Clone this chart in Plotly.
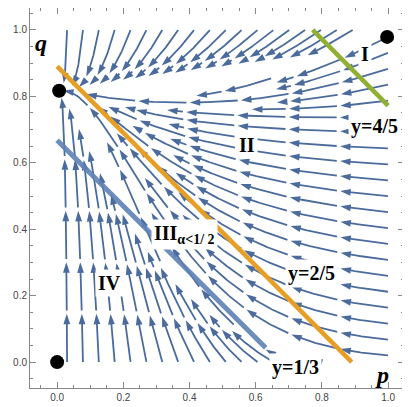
import math
from collections import deque
import numpy as np
import plotly.graph_objects as go

# ---------------- data ----------------
tick_vals = [0.0, 0.2, 0.4, 0.6, 0.8, 1.0]
tick_text = ["0.0", "0.2", "0.4", "0.6", "0.8", "1.0"]

eq_p = [0.0, 0.006, 0.997]
eq_q = [0.0, 0.817, 0.979]

orange_p = [0.0, 0.89]
orange_q = [0.89, 0.0]
blue_p = [0.0, 0.63]
blue_q = [0.668, 0.043]
green_p = [0.772, 1.0]
green_q = [1.0, 0.772]

label_text = ["I", "II", "III<sub>α&lt;1/ 2</sub>", "IV", "y=4/5", "y=2/5", "y=1/3"]
label_p = [0.93, 0.574, 0.385, 0.157, 0.958, 0.767, 0.719]
label_q = [0.928, 0.654, 0.385, 0.238, 0.708, 0.268, -0.015]

axis_label_text = ["q", "p"]
axis_label_p = [-0.048, 0.982]
axis_label_q = [0.961, -0.04]

# vector field (p, q) -> (dp/dt, dq/dt)
q_star0 = 0.82
q_star_slope = 0.1


def field(p, q):
    qs = q_star0 - q_star_slope * p
    r_below = 0.7 * (1 - p) / (p + 0.1) * (1.2 - 0.8 * q) + 0.1 + 0.6 * q
    r_above = 2.0 + 0.4 * (1 - p) / (p + 0.1)
    w = 0.5 * (1 + math.tanh((q - qs) / 0.03))
    u = -p
    v = (qs - q) * (w * r_above + (1 - w) * r_below)
    return u, v


X_RANGE = [-0.082, 1.048]
Y_RANGE = [-0.078, 1.066]
PLOT_W = 374
PLOT_H = 380
PX_X = PLOT_W / (X_RANGE[1] - X_RANGE[0])
PX_Y = PLOT_H / (Y_RANGE[1] - Y_RANGE[0])

# ---------------- streamlines ----------------
H = 0.004
DSEP = 0.047
DTEST = 0.42 * DSEP
CELL = DTEST
SINK = (eq_p[1], q_star0)


def direction(x, y):
    u, v = field(x, y)
    n = math.hypot(u, v)
    if n < 1e-9:
        return None
    return u / n, v / n


grid = {}


def add_pts(pts):
    for (x, y) in pts:
        grid.setdefault((int(x // CELL), int(y // CELL)), []).append((x, y))


def too_close(x, y, d):
    i = int(x // CELL)
    j = int(y // CELL)
    r = int(math.ceil(d / CELL))
    d2 = d * d
    for a in range(i - r, i + r + 1):
        for b in range(j - r, j + r + 1):
            for (px, py) in grid.get((a, b), ()):
                if (px - x) ** 2 + (py - y) ** 2 < d2:
                    return True
    return False


def integrate(x0, y0, sign):
    pts = []
    x, y = x0, y0
    for _ in range(3000):
        d1 = direction(x, y)
        if d1 is None:
            break
        xm, ym = x + sign * 0.5 * H * d1[0], y + sign * 0.5 * H * d1[1]
        d2 = direction(xm, ym)
        if d2 is None:
            break
        xn, yn = x + sign * H * d2[0], y + sign * H * d2[1]
        if not (0 <= xn <= 1 and 0 <= yn <= 1):
            break
        if too_close(xn, yn, DTEST):
            break
        if math.hypot(xn - SINK[0], yn - SINK[1]) < 0.012:
            break
        pts.append((xn, yn))
        x, y = xn, yn
    return pts


lines = []
queue = deque()


def try_seed(x, y):
    if not (0 <= x <= 1 and 0 <= y <= 1):
        return
    if too_close(x, y, DSEP * 0.98):
        return
    back = integrate(x, y, -1)
    fwd = integrate(x, y, 1)
    line = back[::-1] + [(x, y)] + fwd
    if len(line) < 5:
        return
    add_pts(line)
    lines.append(line)
    for k in range(0, len(line) - 1, 4):
        (ax, ay) = line[k]
        (bx, by) = line[k + 1]
        dx, dy = bx - ax, by - ay
        n = math.hypot(dx, dy)
        if n == 0:
            continue
        nx, ny = -dy / n, dx / n
        queue.append((ax + nx * DSEP, ay + ny * DSEP))
        queue.append((ax - nx * DSEP, ay - ny * DSEP))


def drain():
    while queue:
        sx, sy = queue.popleft()
        try_seed(sx, sy)


initial = []
qq = 0.02
while qq < 1.0:
    initial.append((0.9995, qq))
    qq += DSEP * 1.02
pp = 0.03
while pp < 1.0:
    initial.append((pp, 0.9995))
    pp += DSEP * 1.02
pp = 0.03
while pp < 0.9:
    initial.append((pp, 0.0005))
    pp += DSEP * 1.02
for (sx, sy) in initial:
    try_seed(sx, sy)
drain()
for gx in np.arange(0.01, 1.0, 0.02):
    for gy in np.arange(0.01, 1.0, 0.02):
        try_seed(float(gx), float(gy))
        drain()

# ---------------- segments + arrow heads ----------------
SEG = 0.145
GAP = 0.01
BACK = 0.012
MIN_TAIL = 0.035

lx, ly, ax_, ay_, ang = [], [], [], [], []
for line in lines:
    pts = np.array(line)
    d = np.hypot(np.diff(pts[:, 0]), np.diff(pts[:, 1]))
    s = np.concatenate([[0.0], np.cumsum(d)])
    total = s[-1]
    if total < 0.02:
        continue
    start = 0.0
    while start < total - 1e-9:
        end = start + SEG
        if total - end < MIN_TAIL:
            end = total
        ss = np.arange(start, max(start, end - BACK), 0.003)
        ss = np.append(ss, max(start, end - BACK))
        xs = np.interp(ss, s, pts[:, 0])
        ys = np.interp(ss, s, pts[:, 1])
        lx.extend(xs.tolist() + [None])
        ly.extend(ys.tolist() + [None])
        tx = float(np.interp(end, s, pts[:, 0]))
        ty = float(np.interp(end, s, pts[:, 1]))
        bx = float(np.interp(end - 0.01, s, pts[:, 0]))
        by = float(np.interp(end - 0.01, s, pts[:, 1]))
        ax_.append(tx)
        ay_.append(ty)
        ang.append(math.degrees(math.atan2((tx - bx) * PX_X, (ty - by) * PX_Y)))
        start = end + GAP

STREAM = "#4a6b9c"

fig = go.Figure()
fig.add_trace(go.Scatter(x=lx, y=ly, mode="lines",
                         line=dict(color=STREAM, width=1.8),
                         hoverinfo="skip", showlegend=False))
fig.add_trace(go.Scatter(x=ax_, y=ay_, mode="markers",
                         marker=dict(symbol="arrow", size=11, angle=ang,
                                     color=STREAM, line=dict(width=0)),
                         hoverinfo="skip", showlegend=False))
fig.add_trace(go.Scatter(x=blue_p, y=blue_q, mode="lines",
                         line=dict(color="#5e81b5", width=5), opacity=0.9,
                         showlegend=False))
fig.add_trace(go.Scatter(x=orange_p, y=orange_q, mode="lines",
                         line=dict(color="#e69f24", width=4.5),
                         showlegend=False))
fig.add_trace(go.Scatter(x=green_p, y=green_q, mode="lines",
                         line=dict(color="#8fb032", width=4.5),
                         showlegend=False))
fig.add_trace(go.Scatter(x=eq_p, y=eq_q, mode="markers",
                         marker=dict(color="black", size=14),
                         showlegend=False))

for t, x, y in zip(label_text, label_p, label_q):
    fig.add_annotation(x=x, y=y, text=t, showarrow=False, bgcolor="white",
                       borderpad=2,
                       font=dict(family="Liberation Serif", size=20,
                                 color="black", weight="bold"))
for t, x, y in zip(axis_label_text, axis_label_p, axis_label_q):
    fig.add_annotation(x=x, y=y, text=t, showarrow=False,
                       font=dict(family="Liberation Serif", size=24,
                                 color="black", weight="bold", style="italic"))

axis_common = dict(
    tickvals=tick_vals, ticktext=tick_text, ticks="inside", ticklen=6,
    tickcolor="#888", tickwidth=1, showline=True, linecolor="#888",
    linewidth=1, mirror="ticks", showgrid=False, zeroline=False,
    automargin=False,
    tickfont=dict(family="Liberation Sans", size=10, color="#444"),
    minor=dict(ticks="inside", ticklen=3, dtick=0.05, tick0=0,
               tickcolor="#888", showgrid=False),
)
# the page body adds an 8 px offset, so the figure is sized to sit inside it
fig.update_layout(
    width=402, height=399,
    margin=dict(l=22, r=6, t=0, b=19, autoexpand=False),
    paper_bgcolor="white", plot_bgcolor="white",
    xaxis=dict(range=X_RANGE, **axis_common),
    yaxis=dict(range=Y_RANGE, **axis_common),
)
fig.write_html("out.html")
